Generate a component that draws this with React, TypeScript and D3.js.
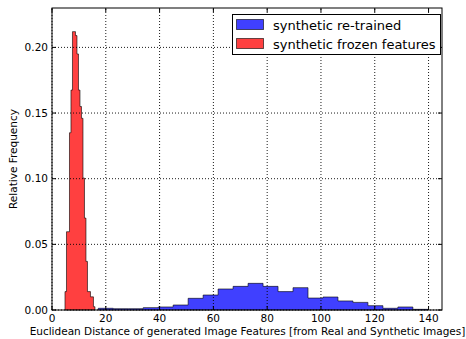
import * as d3 from 'd3'

// blue histogram: 22 bins of equal width
const blueStart = 17.2
const blueWidth = 5.57
const blueValues = [
  0.0013, 0.001, 0.001, 0.0018, 0.0023, 0.0038, 0.0089, 0.0114, 0.016, 0.018, 0.0203,
  0.018, 0.014, 0.017, 0.0091, 0.0099, 0.0069, 0.0058, 0.0033, 0.0013, 0.0023, 0.0005,
]

// red histogram: 20 bins of equal width
const redStart = 4.83
const redWidth = 0.557
const redValues = [
  0.014, 0.0596, 0.0596, 0.135, 0.1675, 0.212, 0.212, 0.209, 0.195, 0.1675,
  0.155, 0.146, 0.1005, 0.07, 0.037, 0.014, 0.014, 0.01, 0.01, 0.0025,
]

const xTicks = [0, 20, 40, 60, 80, 100, 120, 140]
const yTicks = [0, 0.05, 0.1, 0.15, 0.2]
const legendLabels = ['synthetic re-trained', 'synthetic frozen features']
const xLabel = 'Euclidean Distance of generated Image Features [from Real and Synthetic Images]'
const yLabel = 'Relative Frequency'

const W = 466
const H = 339
const m = { left: 52, right: 24, top: 8, bottom: 29 }
const font = 'DejaVu Sans, sans-serif'

export default function App() {
  const x = d3.scaleLinear().domain([0, 145]).range([m.left, W - m.right])
  const y = d3.scaleLinear().domain([0, 0.23]).range([H - m.bottom, m.top])

  const stepPath = (start: number, width: number, vals: number[]) => {
    const pts: [number, number][] = [[start, 0]]
    vals.forEach((v, i) => pts.push([start + i * width, v]))
    pts.push([start + vals.length * width, 0])
    return d3.line<[number, number]>()
      .x(d => x(d[0]))
      .y(d => y(d[1]))
      .curve(d3.curveStepAfter)(pts) + 'Z'
  }

  const x0 = m.left, x1 = W - m.right, y0 = H - m.bottom, y1 = m.top
  const blue = 'rgb(64,64,255)'
  const red = 'rgb(255,64,64)'
  const edge = 'rgba(0,0,0,0.6)'

  return (
    <svg width={W} height={H} style={{ position: 'absolute', left: 0, top: 0, background: '#fff' }}
      fontFamily={font}>
      <rect x={0} y={0} width={W} height={H} fill="#fff" />
      <path d={stepPath(blueStart, blueWidth, blueValues)} fill={blue} stroke={edge} strokeWidth={1} />
      <path d={stepPath(redStart, redWidth, redValues)} fill={red} stroke={edge} strokeWidth={1} />

      {/* grid */}
      {xTicks.map(t => (
        <line key={'gx' + t} x1={x(t)} x2={x(t)} y1={y0} y2={y1} stroke="#000" strokeWidth={0.9} strokeDasharray="1,2" />
      ))}
      {yTicks.map(t => (
        <line key={'gy' + t} x1={x0} x2={x1} y1={y(t)} y2={y(t)} stroke="#000" strokeWidth={0.9} strokeDasharray="1,2" />
      ))}

      {/* ticks, inside on all sides */}
      {xTicks.map(t => (
        <g key={'tx' + t}>
          <line x1={x(t)} x2={x(t)} y1={y0} y2={y0 - 4} stroke="#000" />
          <line x1={x(t)} x2={x(t)} y1={y1} y2={y1 + 4} stroke="#000" />
          <text x={x(t)} y={y0 + 12} fontSize={10.5} textAnchor="middle">{t}</text>
        </g>
      ))}
      {yTicks.map(t => (
        <g key={'ty' + t}>
          <line x1={x0} x2={x0 + 4} y1={y(t)} y2={y(t)} stroke="#000" />
          <line x1={x1} x2={x1 - 4} y1={y(t)} y2={y(t)} stroke="#000" />
          <text x={x0 - 4} y={y(t) + 3.5} fontSize={10.5} textAnchor="end">{t.toFixed(2)}</text>
        </g>
      ))}

      <rect x={x0} y={y1} width={x1 - x0} height={y0 - y1} fill="none" stroke="#000" strokeWidth={1} />

      <text x={247.5} y={335} fontSize={10.5} textAnchor="middle">{xLabel}</text>
      <text transform={`translate(17,${(y0 + y1) / 2}) rotate(-90)`} fontSize={10.5} textAnchor="middle">{yLabel}</text>

      {/* legend */}
      <g>
        <rect x={232.5} y={14.5} width={208} height={40} fill="#fff" stroke="#000" strokeWidth={1} />
        {legendLabels.map((lab, i) => (
          <g key={lab}>
            <rect x={236.5} y={19.5 + i * 19} width={27} height={10} fill={i === 0 ? blue : red} stroke={edge} />
            <text x={273} y={29.5 + i * 19} fontSize={13}>{lab}</text>
          </g>
        ))}
      </g>
    </svg>
  )
}
